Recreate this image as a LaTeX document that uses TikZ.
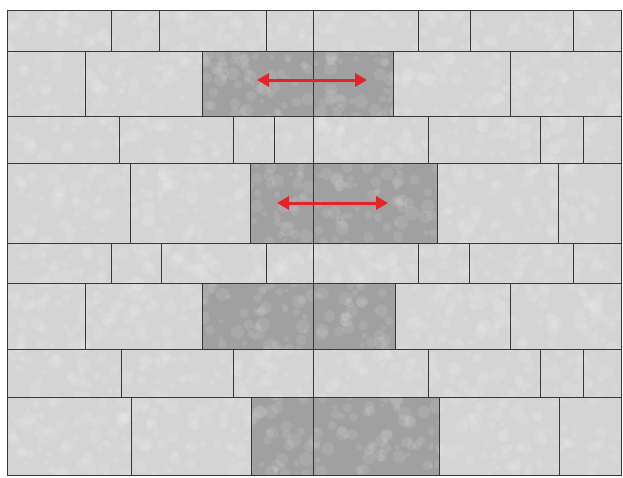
\documentclass[tikz,border=0pt]{standalone}
\usetikzlibrary{arrows.meta}
\definecolor{stonelight}{HTML}{D4D4D4}
\definecolor{stonedark}{HTML}{A0A0A0}
\definecolor{jointline}{HTML}{383838}
\definecolor{arrowred}{HTML}{E62129}

\begin{document}
\begin{tikzpicture}[x=1pt,y=-1pt,
    joint/.style={jointline,line width=1pt},
    slide/.style={arrowred,line width=3pt,
      {Triangle[length=12pt,width=13pt]}-{Triangle[length=12pt,width=13pt]}}]
    \useasboundingbox (0,0) rectangle (623,477);

    % stones
    \fill[stonelight] (7,10) rectangle (621,475);
    \fill[stonedark] (202,51) rectangle (393,116);
    \fill[stonedark] (250,163) rectangle (437,243);
    \fill[stonedark] (202,283) rectangle (395,349);
    \fill[stonedark] (251,397) rectangle (439,475);

    % cloudy surface
    \pgfmathsetseed{7}
    \begin{scope}
        \clip (7,10) rectangle (621,475);
        \foreach \i in {1,...,1800}
            \fill[white,opacity=0.1] ({7+614*rnd},{10+465*rnd}) circle[radius={2pt+5pt*rnd}];
    \end{scope}

    % bed joints
    \foreach \y in {51,116,163,243,283,349,397}
        \draw[joint] (7,\y) -- (621,\y);

    % head joints, one course at a time
    \foreach \ya/\yb/\xs in {10/51/{111,159,266,418,470,573},
                             51/116/{85,202,393,510},
                             116/163/{119,233,274,428,540,583},
                             163/243/{130,250,437,558},
                             243/283/{111,161,266,418,469,573},
                             283/349/{85,202,395,510},
                             349/397/{121,233,428,540,583},
                             397/475/{131,251,439,559}}
        \foreach \x in \xs
            \draw[joint] (\x,\ya) -- (\x,\yb);

    \draw[joint] (313,10) -- (313,475);
    \draw[joint] (7,10) rectangle (621,475);

    % movement of the dark stones
    \coordinate (upperL) at (257,80);
    \coordinate (upperR) at (367,80);
    \coordinate (lowerL) at (277,203);
    \coordinate (lowerR) at (388,203);
    \draw[slide] (upperL) -- (upperR);
    \draw[slide] (lowerL) -- (lowerR);
\end{tikzpicture}
\end{document}
